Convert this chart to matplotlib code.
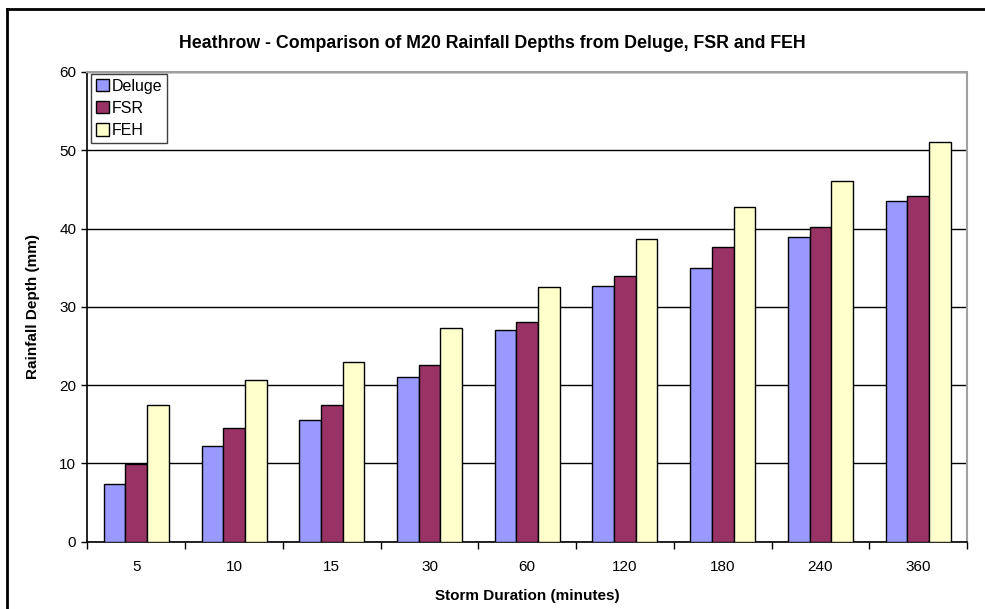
import matplotlib
matplotlib.use('Agg')
import matplotlib.pyplot as plt
from matplotlib.lines import Line2D
import numpy as np

# Datos de profundidad de lluvia M20 (mm) por duración de tormenta
duraciones = ['5', '10', '15', '30', '60', '120', '180', '240', '360']
deluge = [7.4, 12.2, 15.5, 21.0, 27.1, 32.6, 35.0, 38.9, 43.5]
fsr = [9.9, 14.5, 17.4, 22.6, 28.1, 34.0, 37.6, 40.2, 44.2]
feh = [17.4, 20.7, 23.0, 27.3, 32.5, 38.7, 42.8, 46.1, 51.0]

series = [('Deluge', deluge, '#9999FF'),
          ('FSR', fsr, '#993366'),
          ('FEH', feh, '#FFFFCC')]

plt.rcParams['font.family'] = ['Liberation Sans', 'DejaVu Sans']

fig = plt.figure(figsize=(9.85, 6.09), dpi=100)
ax = fig.add_axes([0.0888, 0.1105, 0.8929, 0.7713])

x = np.arange(len(duraciones))
ancho = 0.222
for i, (nombre, valores, color) in enumerate(series):
    ax.bar(x + (i - 1) * ancho, valores, width=ancho, color=color,
           edgecolor='black', linewidth=1.0, label=nombre, zorder=3)

ax.set_xlim(-0.5, len(duraciones) - 0.5)
ax.set_ylim(0, 60)
ax.set_yticks(range(0, 61, 10))
ax.set_xticks(x)
ax.set_xticklabels(duraciones, fontsize=11)
ax.tick_params(axis='x', length=0, pad=13)
ax.tick_params(axis='y', labelsize=11, length=4, direction='out', width=1, pad=4)

# Marcas entre categorías
ax.set_xticks(np.arange(-0.5, len(duraciones)), minor=True)
ax.tick_params(axis='x', which='minor', length=5, width=1, direction='out')

ax.grid(axis='y', color='black', linewidth=1.0, zorder=0)
for lado in ['left', 'bottom']:
    ax.spines[lado].set_color('black')
    ax.spines[lado].set_linewidth(1.2)
for lado in ['top', 'right']:
    ax.spines[lado].set_color('#A0A0A0')
    ax.spines[lado].set_linewidth(1.5)

ax.set_ylabel('Rainfall Depth (mm)', fontsize=11, fontweight='bold', labelpad=14)
ax.set_xlabel('Storm Duration (minutes)', fontsize=11, fontweight='bold', labelpad=11)
fig.text(0.5, 0.928, 'Heathrow - Comparison of M20 Rainfall Depths from Deluge, FSR and FEH',
         ha='center', va='center', fontsize=12.8, fontweight='bold')

leg = ax.legend(loc='upper left', bbox_to_anchor=(0.004, 0.996), fontsize=11.5,
                frameon=True, fancybox=False, borderpad=0.3, labelspacing=0.45,
                handlelength=0.8, handleheight=0.8, handletextpad=0.2,
                borderaxespad=0.0)
leg.get_frame().set_edgecolor('#404040')
leg.get_frame().set_linewidth(1.0)
leg.get_frame().set_alpha(1)

# Marco exterior (solo visibles borde izquierdo y superior)
fig.add_artist(Line2D([7 / 985, 7 / 985], [0, 1 - 9 / 609], color='black',
                      linewidth=2, transform=fig.transFigure))
fig.add_artist(Line2D([7 / 985, 1], [1 - 9 / 609, 1 - 9 / 609], color='black',
                      linewidth=2, transform=fig.transFigure))

fig.savefig('out.png', dpi=100)
